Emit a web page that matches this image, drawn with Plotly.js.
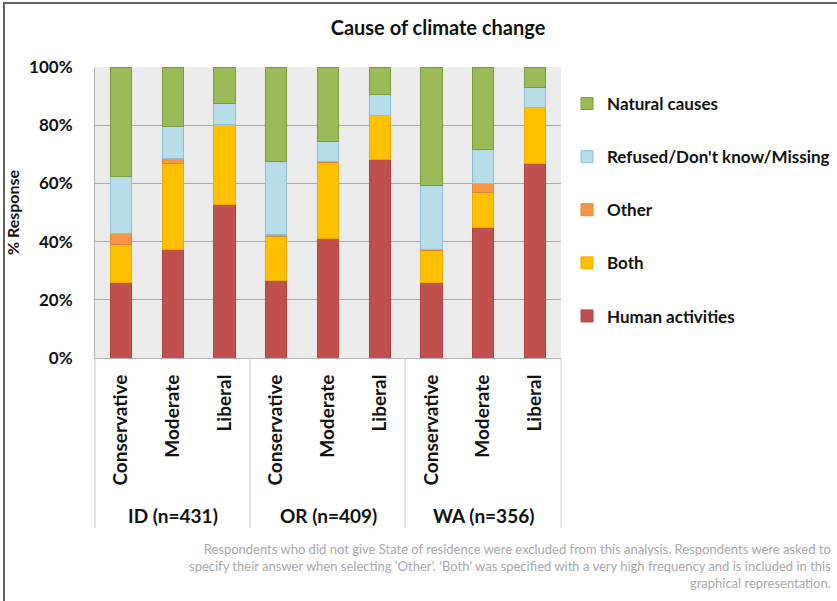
<!DOCTYPE html>
<html>
<head>
<meta charset="utf-8">
<script src="https://cdn.plot.ly/plotly-3.0.1.min.js"></script>
<style>html,body{margin:0;padding:0;background:#fff;}#chart{width:837px;height:601px;}</style>
</head>
<body>
<div id="chart"></div>
<script>
const states = ["ID", "OR", "WA"];
const stateLabels = ["ID (n=431)", "OR (n=409)", "WA (n=356)"];
const ideologies = ["Conservative", "Moderate", "Liberal"];

// Percentages, ordered ID-Cons, ID-Mod, ID-Lib, OR-Cons, OR-Mod, OR-Lib, WA-Cons, WA-Mod, WA-Lib
const humanActivities = [26.0, 37.3, 52.8, 26.8, 41.1, 68.3, 25.9, 44.9, 66.7];
const both            = [12.9, 29.6, 27.6, 15.1, 26.1, 15.2, 11.0, 12.0, 19.3];
const other           = [3.8, 1.7, 0.0, 0.4, 0.3, 0.0, 0.3, 3.1, 0.0];
const refused         = [19.6, 10.9, 7.1, 25.2, 6.8, 6.9, 22.2, 11.7, 6.9];
const naturalCauses   = [37.7, 20.5, 12.5, 32.5, 25.7, 9.6, 40.6, 28.3, 7.1];

const seriesNames = ["Human activities", "Both", "Other", "Refused/Don't know/Missing", "Natural causes"];
const seriesValues = [humanActivities, both, other, refused, naturalCauses];
const seriesColors = ["#c0504d", "#ffc000", "#f79646", "#b7dee8", "#9bbb59"];
const seriesLines  = ["#b04541", "#e8ad00", "#e08535", "#8fbfd4", "#7a9a3e"];

const xKeys = [];
const xText = [];
states.forEach(s => ideologies.forEach(i => { xKeys.push(s + "|" + i); xText.push(i); }));

const FONT = "Lato, 'Open Sans', sans-serif";

const traces = seriesNames.map((name, k) => ({
  type: "bar",
  name: name,
  legendgroup: name,
  legendrank: seriesNames.length - k,
  x: xKeys,
  y: seriesValues[k],
  marker: {color: seriesColors[k], line: {color: seriesLines[k], width: 1}},
  width: 0.41,
  hoverinfo: "name+y"
}));

const L = 95, R = 561, T = 67, B = 358;
const W = 837, H = 601;
const px = x => (x - L) / (R - L);
const py = y => (B - y) / (B - T);

const annotations = states.map((s, i) => ({
  xref: "x", yref: "paper",
  x: s + "|Moderate", y: py(515),
  text: stateLabels[i], showarrow: false,
  xanchor: "center", yanchor: "middle",
  font: {family: FONT, size: 19, color: "#111", weight: "bold"}
}));
annotations.push({
  xref: "paper", yref: "paper",
  x: px(833), y: py(566),
  xanchor: "right", yanchor: "middle", align: "right",
  showarrow: false,
  text: "Respondents who did not give State of residence were excluded from this analysis. Respondents were asked to<br>specify their answer when selecting ‘Other’. ‘Both’ was specified with a very high frequency and is included in this<br>graphical representation.",
  font: {family: FONT, size: 13, color: "#a8a8a8"}
});

const shapes = [];
[L, 250, 405, R].forEach(xp => shapes.push({
  type: "line", xref: "paper", yref: "paper",
  x0: px(xp), x1: px(xp), y0: 0, y1: py(528),
  line: {color: "#c8c8c8", width: 1}
}));
// outer frame
shapes.push({
  type: "path", xref: "paper", yref: "paper",
  path: `M ${px(4)} ${py(610)} L ${px(4)} ${py(3)} L ${px(845)} ${py(3)}`,
  line: {color: "#606060", width: 2}
});

const layout = {
  width: W, height: H,
  margin: {l: L, r: W - R, t: T, b: H - B, autoexpand: false},
  paper_bgcolor: "#ffffff",
  plot_bgcolor: "#ebebeb",
  barmode: "stack",
  bargap: 0.59,
  showlegend: true,
  title: {
    text: "Cause of climate change",
    x: px(438), xref: "paper", xanchor: "center",
    y: 1 - 28 / H, yref: "container", yanchor: "middle",
    font: {family: FONT, size: 20, color: "#111", weight: "bold"}
  },
  xaxis: {
    type: "category",
    tickvals: xKeys, ticktext: xText,
    tickangle: -90,
    tickfont: {family: FONT, size: 19, color: "#111", weight: "bold"},
    showgrid: false,
    showline: true, linecolor: "#b5b5b5", linewidth: 1,
    ticks: "outside", ticklen: 8, tickcolor: "rgba(0,0,0,0)",
    zeroline: false
  },
  yaxis: {
    range: [0, 100], dtick: 20, ticksuffix: "%",
    tickfont: {family: FONT, size: 17, color: "#111", weight: "bold"},
    showgrid: true, gridcolor: "#a9a9a9", gridwidth: 1,
    showline: true, linecolor: "#b5b5b5", linewidth: 1,
    zeroline: false,
    ticklabelstandoff: 18,
    title: {text: "% Response", standoff: 5,
            font: {family: FONT, size: 16, color: "#111", weight: "bold"}}
  },
  legend: {
    x: px(567), y: py(86), xanchor: "left", yanchor: "top",
    traceorder: "grouped",
    tracegroupgap: 28,
    bgcolor: "rgba(0,0,0,0)",
    font: {family: FONT, size: 17, color: "#111", weight: "bold"}
  },
  annotations: annotations,
  shapes: shapes
};

Plotly.newPlot("chart", traces, layout, {displayModeBar: false, staticPlot: true});
</script>
</body>
</html>
